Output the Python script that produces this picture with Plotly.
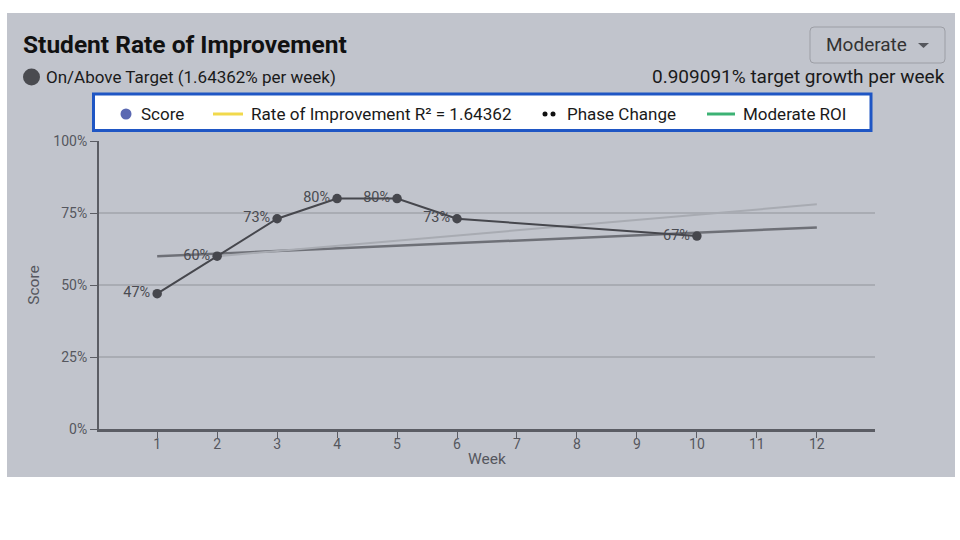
import plotly.graph_objects as go

# ---- data ----
weeks = [1, 2, 3, 4, 5, 6, 10]
scores = [47, 60, 73, 80, 80, 73, 67]
score_labels = ["47%", "60%", "73%", "80%", "80%", "73%", "67%"]

target_weeks = [1, 12]
target_values = [60, 70]

trend_weeks = [2, 12]
trend_values = [60, 78]

x_ticks = list(range(1, 13))
y_ticks = [0, 25, 50, 75, 100]
y_tick_labels = ["0%", "25%", "50%", "75%", "100%"]

title_text = "<b>Student Rate of Improvement</b>"
subtitle_text = "On/Above Target (1.64362% per week)"
target_text = "0.909091% target growth per week"
dropdown_text = "Moderate"
legend_items = ["Score", "Rate of Improvement R² = 1.64362", "Phase Change", "Moderate ROI"]

# ---- layout geometry (pixels) ----
W, H = 960, 540
PL, PR, PT, PB = 99, 875, 141, 429


def X(px):
    return (px - PL) / (PR - PL)


def Y(py):
    return (PB - py) / (PB - PT)


FONT = "Roboto, Arial, sans-serif"
PANEL = "#c1c4cc"
DARK = "#46474d"

fig = go.Figure()

fig.add_trace(go.Scatter(
    x=target_weeks, y=target_values, mode="lines",
    line=dict(color="#6e7077", width=2.5), hoverinfo="skip", showlegend=False))
fig.add_trace(go.Scatter(
    x=trend_weeks, y=trend_values, mode="lines",
    line=dict(color="#a8abb2", width=2), hoverinfo="skip", showlegend=False))
fig.add_trace(go.Scatter(
    x=weeks, y=scores, mode="lines+markers+text",
    text=score_labels, textposition="middle left",
    textfont=dict(family=FONT, size=14.5, color="#4a4b51"),
    line=dict(color=DARK, width=2),
    marker=dict(color=DARK, size=9.5),
    showlegend=False))

shapes = []
# panel background
shapes.append(dict(type="rect", xref="paper", yref="paper", layer="below",
                   x0=X(7), x1=X(955), y0=Y(477), y1=Y(13),
                   fillcolor=PANEL, line=dict(width=0)))
# subtitle dot
shapes.append(dict(type="circle", xref="paper", yref="paper",
                   x0=X(23), x1=X(40), y0=Y(85.5), y1=Y(68.5),
                   fillcolor="#4a4b50", line=dict(width=0)))
# dropdown box (rounded)
x0, x1, y0, y1, r = 810, 945, 27, 63, 4
path = (f"M {X(x0 + r)},{Y(y0)} L {X(x1 - r)},{Y(y0)} Q {X(x1)},{Y(y0)} {X(x1)},{Y(y0 + r)} "
        f"L {X(x1)},{Y(y1 - r)} Q {X(x1)},{Y(y1)} {X(x1 - r)},{Y(y1)} "
        f"L {X(x0 + r)},{Y(y1)} Q {X(x0)},{Y(y1)} {X(x0)},{Y(y1 - r)} "
        f"L {X(x0)},{Y(y0 + r)} Q {X(x0)},{Y(y0)} {X(x0 + r)},{Y(y0)} Z")
shapes.append(dict(type="path", xref="paper", yref="paper", path=path,
                   fillcolor="rgba(0,0,0,0)", line=dict(color="#9c9ea5", width=1)))
# dropdown caret
shapes.append(dict(type="path", xref="paper", yref="paper",
                   path=f"M {X(918)},{Y(43)} L {X(929)},{Y(43)} L {X(923.5)},{Y(48)} Z",
                   fillcolor="#55575d", line=dict(width=0)))
# legend box
shapes.append(dict(type="rect", xref="paper", yref="paper",
                   x0=X(93.5), x1=X(871), y0=Y(130.5), y1=Y(94),
                   fillcolor="white", line=dict(color="#1f56c4", width=3)))
LY = 114
# legend markers
shapes.append(dict(type="circle", xref="paper", yref="paper",
                   x0=X(120.5), x1=X(131.5), y0=Y(LY + 5.5), y1=Y(LY - 5.5),
                   fillcolor="#5a68b2", line=dict(width=0)))
shapes.append(dict(type="line", xref="paper", yref="paper",
                   x0=X(213), x1=X(243), y0=Y(LY), y1=Y(LY),
                   line=dict(color="#f1d94c", width=3)))
for cx in (545, 553):
    shapes.append(dict(type="circle", xref="paper", yref="paper",
                       x0=X(cx - 2.5), x1=X(cx + 2.5), y0=Y(LY + 2.5), y1=Y(LY - 2.5),
                       fillcolor="#111111", line=dict(width=0)))
shapes.append(dict(type="line", xref="paper", yref="paper",
                   x0=X(707), x1=X(735), y0=Y(LY), y1=Y(LY),
                   line=dict(color="#3cb274", width=3)))

annotations = []


def ann(text, px, py, size, anchor="left", color="#1a1a1a"):
    annotations.append(dict(text=text, xref="paper", yref="paper",
                            x=X(px), y=Y(py), xanchor=anchor, yanchor="middle",
                            showarrow=False,
                            font=dict(family=FONT, size=size, color=color)))


ann(title_text, 21, 44, 24.5, color="#111111")
ann(subtitle_text, 44, 77, 17)
ann(target_text, 947, 77, 19, anchor="right")
ann(dropdown_text, 824, 44, 19, color="#333333")
ann(legend_items[0], 139, LY, 17)
ann(legend_items[1], 249, LY, 17.1)
ann(legend_items[2], 565, LY, 17)
ann(legend_items[3], 741, LY, 17)

fig.update_layout(
    width=W, height=H,
    margin=dict(l=PL, r=W - PR, t=PT, b=H - PB, pad=0),
    paper_bgcolor="white",
    plot_bgcolor=PANEL,
    showlegend=False,
    shapes=shapes,
    annotations=annotations,
    font=dict(family=FONT, color="#55575e"),
    xaxis=dict(
        range=[0.03, 12.97], tickvals=x_ticks, ticktext=[str(t) for t in x_ticks],
        showgrid=False, zeroline=False,
        showline=True, linecolor="#5b5d64", linewidth=3,
        ticks="outside", ticklen=6, tickcolor="#5b5d64", tickwidth=1,
        ticklabelstandoff=-6,
        tickfont=dict(family=FONT, size=14, color="#55575e"),
        title=dict(text="Week", standoff=3, font=dict(family=FONT, size=15.5, color="#55575e")),
    ),
    yaxis=dict(
        range=[0, 100], tickvals=y_ticks, ticktext=y_tick_labels,
        showgrid=True, gridcolor="#a9acb3", gridwidth=1.5, zeroline=False,
        showline=True, linecolor="#5b5d64", linewidth=2,
        ticks="outside", ticklen=7, tickcolor="#5b5d64", tickwidth=1,
        tickfont=dict(family=FONT, size=14, color="#55575e"),
        title=dict(text="Score", standoff=10, font=dict(family=FONT, size=15.5, color="#55575e")),
    ),
)

fig.write_html("out.html",
               config={"displayModeBar": False},
               post_script="document.body.style.margin='0';document.body.style.overflow='hidden';")
